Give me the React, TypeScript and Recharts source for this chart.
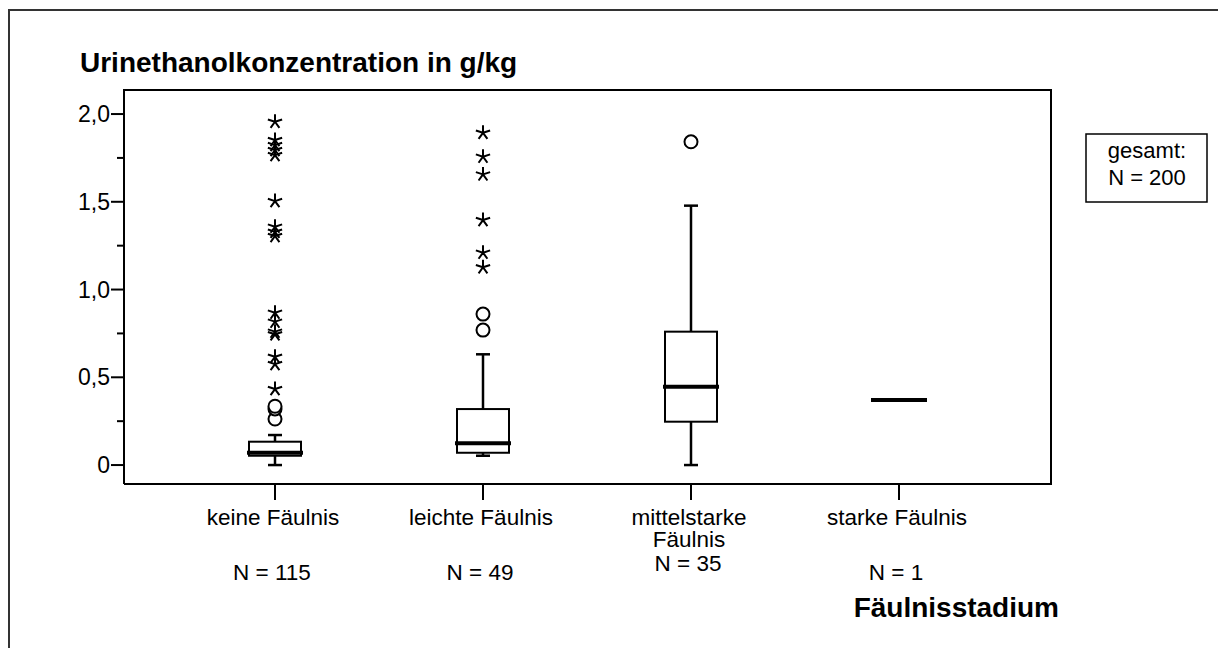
import React from 'react';
import { ComposedChart, Bar, Scatter, XAxis, YAxis } from 'recharts';

// Fäulnisstadium categories and their case counts
const categories = ['keine Fäulnis', 'leichte Fäulnis', 'mittelstarke Fäulnis', 'starke Fäulnis'];
const categoryLines = [['keine Fäulnis'], ['leichte Fäulnis'], ['mittelstarke', 'Fäulnis'], ['starke Fäulnis']];
const caseCounts = [115, 49, 35, 1];

// box plot statistics (g/kg)
const whiskerLow = [0, 0.053, 0, 0.37];
const quartile1 = [0.053, 0.07, 0.247, 0.37];
const medians = [0.07, 0.124, 0.446, 0.37];
const quartile3 = [0.133, 0.319, 0.76, 0.37];
const whiskerHigh = [0.171, 0.631, 1.478, 0.37];

// outliers (circles) and extremes (stars)
const outliersKeine = [0.262, 0.32, 0.335];
const outliersLeichte = [0.769, 0.86];
const outliersMittel = [1.842];
const extremesKeine = [
  0.433, 0.575, 0.617, 0.745, 0.76, 0.817, 0.868, 1.305, 1.329, 1.358, 1.504, 1.766, 1.795, 1.823, 1.852, 1.956,
];
const extremesLeichte = [1.127, 1.21, 1.396, 1.656, 1.757, 1.893];

const yTicks = [0, 0.25, 0.5, 0.75, 1, 1.25, 1.5, 1.75, 2];
const yDomain = [-0.108, 2.137];
const totalN = 200;

const FONT = '"Liberation Sans", Arial, sans-serif';

const boxData = categories.map((name, i) => ({
  name,
  lo: whiskerLow[i],
  q1: quartile1[i],
  med: medians[i],
  q3: quartile3[i],
  hi: whiskerHigh[i],
}));

const circleData = [
  ...outliersKeine.map((v) => ({ name: categories[0], v })),
  ...outliersLeichte.map((v) => ({ name: categories[1], v })),
  ...outliersMittel.map((v) => ({ name: categories[2], v })),
];
const starData = [
  ...extremesKeine.map((v) => ({ name: categories[0], v })),
  ...extremesLeichte.map((v) => ({ name: categories[1], v })),
];

function BoxShape(props: any) {
  const { x, y, width, height } = props;
  const row = props.payload ?? props;
  // the bar spans 0..hi, use it to place the other statistics
  const top = Math.min(y, y + height);
  const bottom = Math.max(y, y + height);
  const ppu = row.hi > 0 ? (bottom - top) / row.hi : 0;
  const py = (v: number) => bottom - v * ppu;
  const cx = x + width / 2;
  const cap = 7;
  const flat = row.q3 === row.q1;
  return (
    <g>
      {!flat && (
        <>
          <line x1={cx} x2={cx} y1={py(row.hi)} y2={py(row.q3)} stroke="#000" strokeWidth={2.5} />
          <line x1={cx} x2={cx} y1={py(row.q1)} y2={py(row.lo)} stroke="#000" strokeWidth={2.5} />
          <line x1={cx - cap} x2={cx + cap} y1={py(row.hi)} y2={py(row.hi)} stroke="#000" strokeWidth={2.5} />
          <line x1={cx - cap} x2={cx + cap} y1={py(row.lo)} y2={py(row.lo)} stroke="#000" strokeWidth={2.5} />
          <rect x={x} y={py(row.q3)} width={width} height={py(row.q1) - py(row.q3)} fill="#fff" stroke="#000" strokeWidth={2} />
        </>
      )}
      <line x1={x - 2} x2={x + width + 2} y1={py(row.med)} y2={py(row.med)} stroke="#000" strokeWidth={4} />
    </g>
  );
}

function CircleMark(props: any) {
  const { cx, cy } = props;
  return <circle cx={cx} cy={cy} r={6.5} fill="#fff" stroke="#000" strokeWidth={2} />;
}

function StarMark(props: any) {
  const { cx, cy } = props;
  const r = 7.5;
  const arms = [-90, -18, 54, 126, 198].map((a) => {
    const rad = (a * Math.PI) / 180;
    return `M${cx},${cy}L${cx + r * Math.cos(rad)},${cy + r * Math.sin(rad)}`;
  });
  return <path d={arms.join('')} stroke="#000" strokeWidth={2} fill="none" />;
}

function YTick(props: any) {
  const { x, y, payload } = props;
  const v = payload.value as number;
  const major = Math.abs(v * 2 - Math.round(v * 2)) < 1e-6;
  const label = v === 0 ? '0' : v.toFixed(1).replace('.', ',');
  return (
    <g>
      <line x1={x - (major ? 13 : 7)} x2={x} y1={y} y2={y} stroke="#000" strokeWidth={2} />
      {major && (
        <text x={x - 14} y={y + 8} textAnchor="end" fontSize={23} fontFamily={FONT} fill="#000">
          {label}
        </text>
      )}
    </g>
  );
}

function XTick(props: any) {
  const { x, y, payload } = props;
  const i = categories.indexOf(payload.value);
  const lines = categoryLines[i] ?? [payload.value];
  const nY = lines.length > 1 ? y + 41 + lines.length * 23 : y + 96;
  return (
    <g>
      <line x1={x} x2={x} y1={y} y2={y + 16} stroke="#000" strokeWidth={2} />
      <text textAnchor="middle" fontSize={22.5} fontFamily={FONT} fill="#000">
        {lines.map((l, k) => (
          <tspan key={k} x={x - 2} y={y + 41 + k * 22}>
            {l}
          </tspan>
        ))}
      </text>
      <text x={x - 3} y={nY} textAnchor="middle" fontSize={22.5} fontFamily={FONT} fill="#000">
        {`N = ${caseCounts[i]}`}
      </text>
    </g>
  );
}

export default function App() {
  const axisLine = { stroke: '#000', strokeWidth: 2 };
  return (
    <div style={{ position: 'absolute', left: 0, top: 0, width: 1218, height: 648, background: '#fff', overflow: 'hidden' }}>
      <ComposedChart width={1218} height={648} data={boxData} margin={{ top: 90, right: 167, bottom: 104, left: 64 }}>
        <XAxis
          dataKey="name"
          type="category"
          allowDuplicatedCategory={false}
          interval={0}
          padding={{ left: 47, right: 48 }}
          height={60}
          axisLine={axisLine}
          tickLine={false}
          tickSize={0}
          tickMargin={0}
          tick={<XTick />}
        />
        <YAxis
          type="number"
          domain={yDomain}
          ticks={yTicks}
          interval={0}
          width={60}
          axisLine={axisLine}
          tickLine={false}
          tickSize={0}
          tickMargin={0}
          tick={<YTick />}
          allowDataOverflow
        />
        <Bar dataKey={(d: any) => [0, d.hi]} barSize={52} shape={BoxShape} isAnimationActive={false} />
        <Scatter data={circleData} dataKey="v" shape={CircleMark} isAnimationActive={false} />
        <Scatter data={starData} dataKey="v" shape={StarMark} isAnimationActive={false} />
      </ComposedChart>
      <svg width={1218} height={648} style={{ position: 'absolute', left: 0, top: 0, pointerEvents: 'none' }}>
        {/* page frame (open to the right and bottom) */}
        <line x1={9} x2={9} y1={9} y2={648} stroke="#333" strokeWidth={2} />
        <line x1={8} x2={1218} y1={10} y2={10} stroke="#333" strokeWidth={2} />
        {/* plot frame: top and right edges */}
        <line x1={123} x2={1052} y1={90} y2={90} stroke="#000" strokeWidth={2} />
        <line x1={1051} x2={1051} y1={89} y2={485} stroke="#000" strokeWidth={2} />
        <text x={80} y={72} fontSize={28} fontWeight="bold" fontFamily={FONT} fill="#000">
          Urinethanolkonzentration in g/kg
        </text>
        <text x={1059} y={617} textAnchor="end" fontSize={28} fontWeight="bold" fontFamily={FONT} fill="#000">
          Fäulnisstadium
        </text>
        <rect x={1086} y={134} width={121} height={68} fill="#fff" stroke="#000" strokeWidth={1.5} />
        <text x={1147} y={158} textAnchor="middle" fontSize={22} fontFamily={FONT} fill="#000">
          gesamt:
        </text>
        <text x={1147} y={185} textAnchor="middle" fontSize={22} fontFamily={FONT} fill="#000">
          {`N = ${totalN}`}
        </text>
      </svg>
    </div>
  );
}
